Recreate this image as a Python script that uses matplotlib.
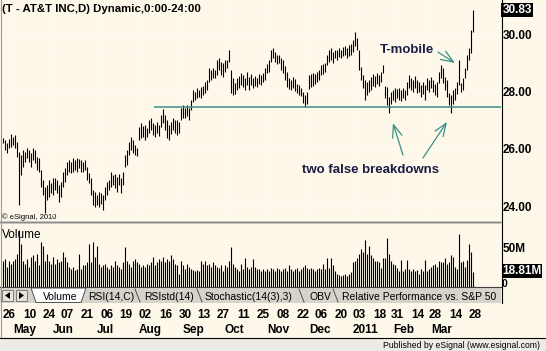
import matplotlib.pyplot as plt
from matplotlib.patches import Rectangle, Polygon
from matplotlib.transforms import blended_transform_factory

plt.rcParams['font.family'] = ['Liberation Sans', 'DejaVu Sans']

# daily bars, index 0 = 26 Apr 2010 ... index 235 = 30 Mar 2011
highs = [
    26.38, 26.31, 26.21, 26.35, 26.52, 26.42, 26.49, 26.24, 25.90, 25.79,
    25.97, 25.90, 26.03, 25.97, 25.86, 26.03, 25.97, 25.72, 25.69, 25.27,
    24.92, 24.68, 24.75, 24.92, 24.82, 24.99, 24.99, 24.92, 24.75, 24.85,
    25.20, 25.34, 25.55, 25.62, 25.55, 25.69, 25.62, 25.69, 25.65, 25.62,
    25.55, 25.62, 25.37, 25.17, 24.99, 24.57, 24.50, 24.40, 24.50, 24.47,
    24.40, 24.68, 24.85, 24.92, 25.20, 25.10, 25.13, 25.03, 25.13, 24.99,
    25.20, 25.79, 25.97, 26.24, 26.42, 26.31, 26.14, 26.03, 26.77, 26.90,
    26.80, 26.83, 26.73, 27.01, 27.08, 26.90, 26.83, 26.94, 26.83, 27.18,
    27.39, 27.18, 27.01, 26.83, 26.94, 27.08, 27.01, 27.01, 26.94, 27.43,
    27.53, 27.43, 27.53, 27.43, 27.70, 28.05, 27.98, 28.12, 28.05, 28.16,
    28.19, 28.33, 28.40, 28.82, 28.75, 28.82, 28.75, 29.10, 29.17, 29.03,
    28.99, 29.10, 29.10, 29.44, 28.75, 28.47, 28.30, 28.47, 28.54, 28.64,
    28.57, 28.47, 28.68, 28.50, 28.61, 28.47, 28.54, 28.47, 28.61, 28.57,
    28.64, 28.82, 28.96, 29.10, 29.44, 29.51, 29.37, 29.27, 29.27, 29.17,
    29.10, 28.89, 28.68, 28.47, 28.40, 28.50, 28.43, 28.26, 28.23, 28.12,
    27.98, 27.88, 27.98, 28.57, 28.61, 28.64, 28.61, 28.68, 28.75, 28.92,
    28.96, 28.99, 29.27, 29.44, 29.51, 29.37, 29.44, 29.44, 29.51, 29.44,
    29.55, 29.58, 29.51, 29.62, 29.65, 29.79, 30.07, 29.86, 29.44, 28.85,
    28.57, 28.40, 28.33, 28.40, 28.50, 28.61, 28.54, 28.64, 28.57, 28.68,
    28.92, 28.19, 28.16, 27.81, 27.98, 28.05, 28.12, 28.09, 28.12, 28.05,
    28.12, 28.05, 28.33, 28.57, 28.47, 28.40, 28.54, 28.40, 28.33, 28.23,
    28.33, 28.23, 28.47, 28.40, 28.50, 28.40, 28.26, 28.33, 28.68, 28.92,
    28.82, 28.50, 28.40, 27.95, 27.88, 28.05, 28.12, 28.33, 29.10, 28.30,
    28.47, 28.82, 29.27, 29.51, 30.14, 30.83,
]
lows = [
    26.21, 25.97, 25.86, 26.03, 26.07, 26.14, 26.03, 25.72, 24.05, 25.10,
    25.37, 25.55, 25.69, 25.55, 25.37, 25.62, 25.51, 25.27, 25.20, 24.68,
    24.40, 23.77, 24.23, 24.33, 24.47, 24.40, 24.57, 24.47, 24.16, 24.33,
    24.68, 24.85, 25.10, 25.20, 25.17, 25.20, 25.27, 25.20, 25.34, 25.20,
    25.20, 25.27, 24.92, 24.82, 24.40, 24.05, 23.98, 24.05, 23.98, 24.09,
    23.88, 24.23, 24.40, 24.57, 24.68, 24.75, 24.64, 24.50, 24.75, 24.47,
    24.75, 25.37, 25.44, 25.79, 25.97, 25.86, 25.79, 25.76, 26.31, 26.38,
    26.42, 26.31, 26.42, 26.56, 26.66, 26.49, 26.42, 26.56, 26.45, 26.77,
    26.90, 26.66, 26.38, 26.31, 26.52, 26.66, 26.56, 26.49, 26.56, 27.01,
    27.08, 27.08, 27.15, 27.01, 27.36, 27.63, 27.70, 27.77, 27.81, 27.77,
    27.88, 27.95, 28.05, 28.33, 28.40, 28.47, 28.47, 28.57, 28.75, 28.57,
    28.50, 28.68, 28.82, 29.03, 27.95, 27.88, 27.91, 28.05, 28.12, 28.23,
    28.16, 28.05, 28.23, 28.05, 28.23, 28.12, 28.19, 28.16, 28.26, 28.23,
    28.33, 28.40, 28.64, 28.68, 29.03, 29.17, 29.03, 28.96, 28.99, 28.75,
    28.64, 28.40, 28.16, 28.09, 28.05, 28.12, 28.02, 27.95, 27.88, 27.84,
    27.60, 27.46, 27.56, 28.09, 28.16, 28.19, 28.26, 28.33, 28.40, 28.57,
    28.61, 28.68, 28.92, 29.03, 29.10, 28.99, 29.17, 29.10, 29.20, 29.17,
    29.24, 29.27, 29.17, 29.24, 29.27, 29.37, 29.58, 29.44, 28.75, 28.40,
    28.12, 27.70, 27.88, 27.98, 28.05, 28.19, 28.16, 28.26, 28.19, 28.33,
    28.64, 27.77, 27.53, 27.25, 27.56, 27.70, 27.63, 27.77, 27.70, 27.67,
    27.77, 27.70, 27.88, 28.12, 28.05, 27.98, 28.12, 27.95, 27.98, 27.81,
    27.91, 27.70, 28.05, 27.98, 28.12, 27.98, 27.88, 27.81, 28.30, 28.47,
    28.30, 28.05, 27.81, 27.53, 27.25, 27.56, 27.70, 27.91, 28.23, 27.98,
    28.05, 28.47, 28.75, 29.10, 29.34, 30.07,
]
# volume in millions of shares
volume = [
    33, 35, 25, 33, 29, 33, 35, 42, 72, 55,
    33, 29, 35, 25, 38, 40, 33, 42, 27, 57,
    52, 33, 42, 33, 29, 38, 29, 35, 31, 33,
    44, 38, 31, 25, 23, 25, 21, 23, 42, 23,
    27, 27, 31, 55, 31, 57, 38, 52, 29, 25,
    27, 29, 25, 23, 27, 25, 33, 27, 25, 23,
    31, 50, 33, 29, 25, 33, 35, 31, 29, 25,
    27, 25, 29, 27, 31, 38, 27, 31, 35, 33,
    38, 31, 35, 33, 40, 35, 29, 27, 16, 33,
    27, 23, 29, 25, 23, 21, 20, 21, 20, 33,
    29, 33, 27, 29, 25, 31, 27, 25, 24, 27,
    20, 27, 25, 33, 50, 29, 25, 22, 20, 29,
    22, 36, 25, 22, 25, 35, 25, 23, 22, 20,
    22, 20, 22, 20, 24, 22, 20, 24, 22, 20,
    22, 24, 20, 27, 22, 20, 22, 24, 20, 22,
    25, 27, 24, 22, 24, 22, 20, 22, 24, 22,
    29, 22, 36, 24, 36, 27, 20, 16, 15, 14,
    15, 16, 14, 16, 18, 31, 33, 36, 42, 48,
    44, 60, 42, 52, 40, 37, 33, 33, 31, 24,
    37, 36, 62, 42, 33, 29, 27, 24, 20, 34,
    20, 22, 34, 22, 20, 22, 20, 21, 16, 22,
    20, 34, 20, 22, 25, 27, 29, 25, 33, 31,
    31, 37, 29, 31, 40, 38, 25, 22, 67, 31,
    33, 25, 34, 54, 44, 18.81,
]

day_ticks = [0, 10, 20, 29, 39, 49, 58, 68, 78, 88, 97, 107, 117,
             127, 137, 147, 156, 166, 175, 185, 194, 204, 213, 223, 233]
day_labels = ['26', '10', '24', '07', '21', '06', '19', '02', '16', '30', '13', '27', '11',
              '25', '08', '22', '06', '20', '03', '18', '31', '14', '28', '14', '28']
month_ticks = [5, 25, 47, 68, 90, 111, 132, 153, 175, 195, 214]
month_labels = ['May', 'Jun', 'Jul', 'Aug', 'Sep', 'Oct', 'Nov', 'Dec', '2011', 'Feb', 'Mar']
price_ticks = [24, 26, 28, 30]
support = 27.46
last_price = 30.83
last_volume = 18.81
tabs = ['RSI(14,C)', 'RSIstd(14)', 'Stochastic(14(3),3)', 'OBV', 'Relative Performance vs. S&P 50']
tab_x = [88, 144, 205, 309, 342]

W, H = 546, 351
CREAM = '#fdf8ea'
GREY = '#d6d3cb'
TEAL = '#3a8f88'
NAVY = '#1b1b45'

fig = plt.figure(figsize=(W / 100, H / 100), dpi=100)
fig.patch.set_facecolor(CREAM)

# pixel canvas for the window chrome
bg = fig.add_axes([0, 0, 1, 1], zorder=0)
bg.set_xlim(0, W)
bg.set_ylim(H, 0)
bg.axis('off')


def box(x0, y0, x1, y1):
    return [x0 / W, 1 - y1 / H, (x1 - x0) / W, (y1 - y0) / H]


ax = fig.add_axes(box(2, 1, 501, 221), zorder=2)
axv = fig.add_axes(box(2, 224, 501, 286.5), zorder=2)
for a in (ax, axv):
    a.set_facecolor('none')
    for s in a.spines.values():
        s.set_visible(False)

# chrome
bg.add_patch(Rectangle((0, 221), 501, 3, fc='#cbc7bf', ec='none'))
bg.plot([0, 501], [221.5, 221.5], color='#8c8c8c', lw=0.8)
bg.add_patch(Rectangle((0, 287), 501, 16, fc=GREY, ec='none'))
bg.plot([0, 501], [287, 287], color='#404040', lw=0.8)
bg.add_patch(Rectangle((0, 338), W, 13, fc='#ecebe6', ec='none'))
bg.plot([0, W], [337.5, 337.5], color='black', lw=0.8)
bg.plot([0.5, 0.5], [0, 337], color='#9a9a9a', lw=0.8)
bg.plot([501.5, 501.5], [0, 303], color='black', lw=0.8)

# tab bar buttons and tabs
for x0, pts in [(2, [(5, 295.5), (10, 292), (10, 299)]), (16, [(24, 295.5), (19, 292), (19, 299)])]:
    bg.add_patch(Rectangle((x0, 290), 11, 11, fc='#e6e3dc', ec='#7a7a7a', lw=0.7))
    bg.add_patch(Polygon(pts, closed=True, fc='black', ec='none'))
bg.add_patch(Polygon([(31, 288), (36, 302.5), (81, 302.5), (86, 288)], closed=True,
                     fc='white', ec='#505050', lw=0.7))
bg.text(43, 300.5, 'Volume', fontsize=7.5, va='baseline', ha='left')
for x in [135, 197, 299, 333]:
    bg.plot([x, x + 5], [289, 302], color='#505050', lw=0.7)
for label, x in zip(tabs, tab_x):
    bg.text(x, 300.5, label, fontsize=7.5, va='baseline', ha='left', clip_on=True)

bg.text(2, 12, '(T - AT&T INC,D) Dynamic,0:00-24:00', fontsize=8.2, fontweight='bold',
        va='baseline', ha='left')
bg.text(2, 219, '\u00a9 eSignal, 2010', fontsize=5.5, va='baseline', ha='left')
bg.text(2, 238, 'Volume', fontsize=8.5, va='baseline', ha='left', zorder=5)
bg.text(540, 348, 'Published by eSignal (www.esignal.com)', fontsize=6.2,
        va='baseline', ha='right')

# price panel
idx = list(range(len(highs)))
ax.set_xlim(-0.5, 249)
ax.set_ylim(23.495, 31.148)
ax.set_xticks(month_ticks)
ax.tick_params(axis='x', length=0, labelbottom=False)
ax.yaxis.tick_right()
ax.set_yticks(price_ticks, [f'{v:.2f}' for v in price_ticks])
ax.tick_params(axis='y', length=0, pad=1.5, labelsize=8.5)
for t in ax.get_yticklabels():
    t.set_fontweight('bold')
ax.grid(True, color='white', linestyle=(0, (1, 3)), lw=1)
ax.set_axisbelow(True)

ax.vlines(idx, lows, highs, color='black', lw=0.8)
ax.hlines(support, 75.5, 249, color=TEAL, lw=1.1)

yax = ax.get_yaxis_transform()
ax.text(1.003, last_price, f'{last_price:.2f}', transform=yax, ha='left', va='center',
        color='white', fontsize=8.5, fontweight='bold',
        bbox=dict(boxstyle='square,pad=0.1', fc='black', ec='none'))

arrow = dict(arrowstyle='->,head_length=0.9,head_width=0.35', color=TEAL, lw=0.9,
             shrinkA=0, shrinkB=0)
ax.annotate('', xy=(226, 28.99), xytext=(217.5, 29.37), arrowprops=arrow)
ax.annotate('', xy=(195, 26.90), xytext=(200, 25.79), arrowprops=arrow)
ax.annotate('', xy=(222, 26.94), xytext=(210, 25.69), arrowprops=arrow)
ax.text(188.5, 29.35, 'T-mobile', fontsize=9.5, fontweight='bold', color=NAVY,
        ha='left', va='baseline')
ax.text(149.5, 25.17, 'two false breakdowns', fontsize=9.5, fontweight='bold', color=NAVY,
        ha='left', va='baseline')

# volume panel
axv.set_xlim(-0.5, 249)
axv.set_ylim(0, 80)
axv.set_xticks([])
axv.yaxis.tick_right()
axv.set_yticks([50], ['50M'])
axv.tick_params(axis='y', length=0, pad=1.5, labelsize=8.5)
for t in axv.get_yticklabels():
    t.set_fontweight('bold')
axv.vlines(idx, 0, volume, color='black', lw=0.8)
vax = axv.get_yaxis_transform()
axv.text(1.002, -1.0, '0', transform=vax, ha='left', va='baseline', fontsize=7.5,
         fontweight='bold')
axv.text(1.003, last_volume + 1.0, f'{last_volume:.2f}M', transform=vax, ha='left',
         va='center', color='white', fontsize=8.5, fontweight='bold', zorder=6,
         bbox=dict(boxstyle='square,pad=0.05', fc='black', ec='none'))

# date axis
bt = blended_transform_factory(axv.transData, bg.transData)
for i, lab in zip(day_ticks, day_labels):
    bg.text(i, 318, lab, transform=bt, fontsize=8.5, fontweight='bold', ha='left',
            va='baseline')
for i, lab in zip(month_ticks, month_labels):
    bg.text(i, 333, lab, transform=bt, fontsize=8.5, fontweight='bold', ha='left',
            va='baseline')

fig.savefig('out.png', dpi=100, facecolor=CREAM)
